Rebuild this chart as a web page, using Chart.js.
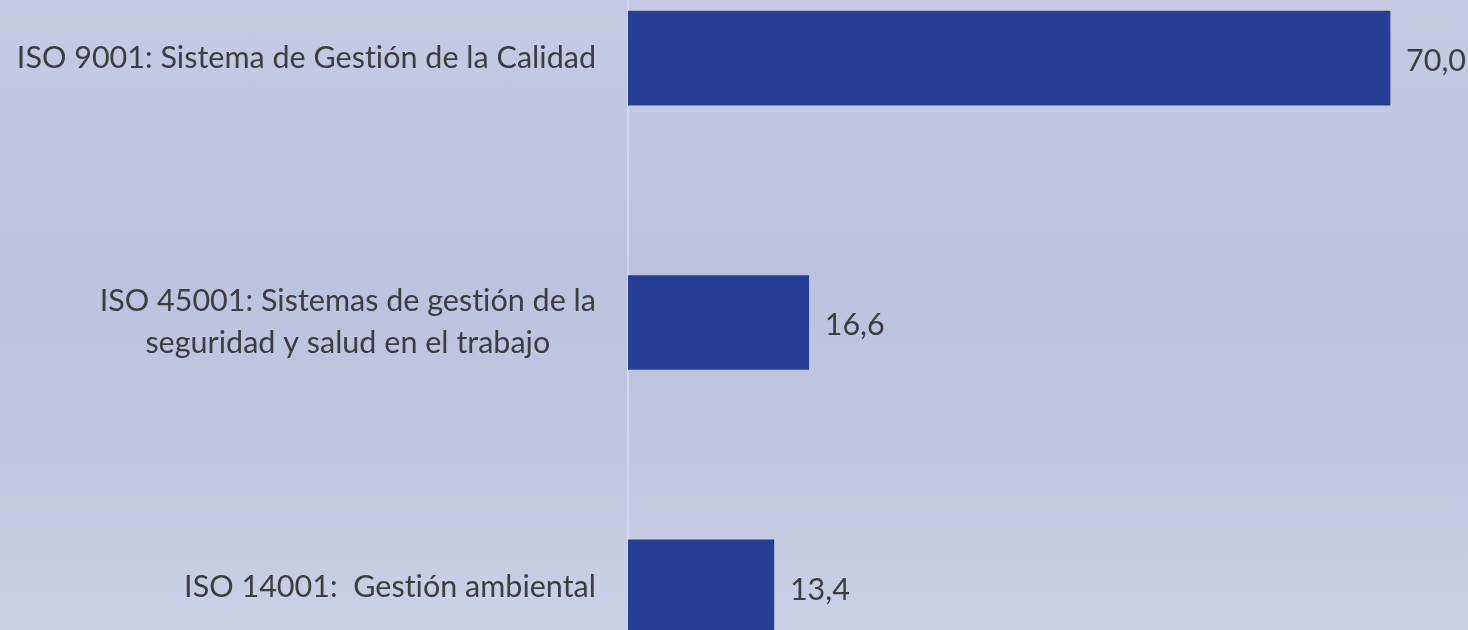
<!DOCTYPE html>
<html>
<head>
<meta charset="utf-8">
<script src="https://cdn.jsdelivr.net/npm/chart.js@4"></script>
<style>
  html, body { margin: 0; padding: 0; width: 1468px; height: 630px; overflow: hidden; }
  body { background: linear-gradient(to bottom, #c6cbe4 0%, #bdc3df 45%, #c0c6e0 65%, #cad0e6 100%); position: relative; }
  #wrap { position: absolute; left: 0; top: -74px; width: 1468px; height: 793px; }
</style>
</head>
<body>
<div id="wrap"><canvas id="isoChart"></canvas></div>
<script>
const categories = [
    ['ISO 9001: Sistema de Gestión de la Calidad'],
    ['ISO 45001: Sistemas de gestión de la', 'seguridad y salud en el trabajo'],
    ['ISO 14001:  Gestión ambiental']
];
const values = [70.0, 16.6, 13.4];

const textColor = '#3d3d3f';
const labelFont = '30.5px Lato';

// category labels: block right-aligned, lines centred within the block
const categoryLabels = {
    id: 'categoryLabels',
    afterDraw(chart) {
        const c = chart.ctx;
        const yScale = chart.scales.y;
        c.save();
        c.font = labelFont;
        c.letterSpacing = '0.01px';
        c.fillStyle = textColor;
        c.textAlign = 'center';
        c.textBaseline = 'middle';
        const lineH = 42;
        categories.forEach((lines, i) => {
            const y = yScale.getPixelForValue(i);
            const w = Math.max(...lines.map(l => c.measureText(l).width));
            const cx = 596 - w / 2;
            lines.forEach((l, j) => {
                c.fillText(l, cx, y + (j - (lines.length - 1) / 2) * lineH);
            });
        });
        c.restore();
    }
};

// value labels right of bars
const valueLabels = {
    id: 'valueLabels',
    afterDatasetsDraw(chart) {
        const c = chart.ctx;
        const meta = chart.getDatasetMeta(0);
        c.save();
        c.font = labelFont;
        c.fillStyle = textColor;
        c.textAlign = 'left';
        c.textBaseline = 'middle';
        meta.data.forEach((bar, i) => {
            c.fillText(values[i].toFixed(1).replace('.', ','), bar.x + 16, bar.y + 3);
        });
        c.restore();
    }
};

const ctx = document.getElementById('isoChart').getContext('2d');
const isoChart = new Chart(ctx, {
    type: 'bar',
    data: {
        labels: categories.map(l => l.join(' ')),
        datasets: [{
            data: values,
            backgroundColor: '#263f94',
            borderWidth: 0,
            barThickness: 94
        }]
    },
    options: {
        indexAxis: 'y',
        responsive: true,
        maintainAspectRatio: false,
        animation: false,
        layout: { padding: 0 },
        scales: {
            x: {
                display: false,
                min: 0,
                max: 77.16
            },
            y: {
                grid: { display: false, drawTicks: false },
                border: { display: true, color: '#d3d6f0', width: 2 },
                ticks: { display: false },
                afterFit(scale) { scale.width = 628; }
            }
        },
        plugins: {
            legend: { display: false },
            tooltip: { enabled: false }
        }
    },
    plugins: [categoryLabels, valueLabels]
});
</script>
</body>
</html>
